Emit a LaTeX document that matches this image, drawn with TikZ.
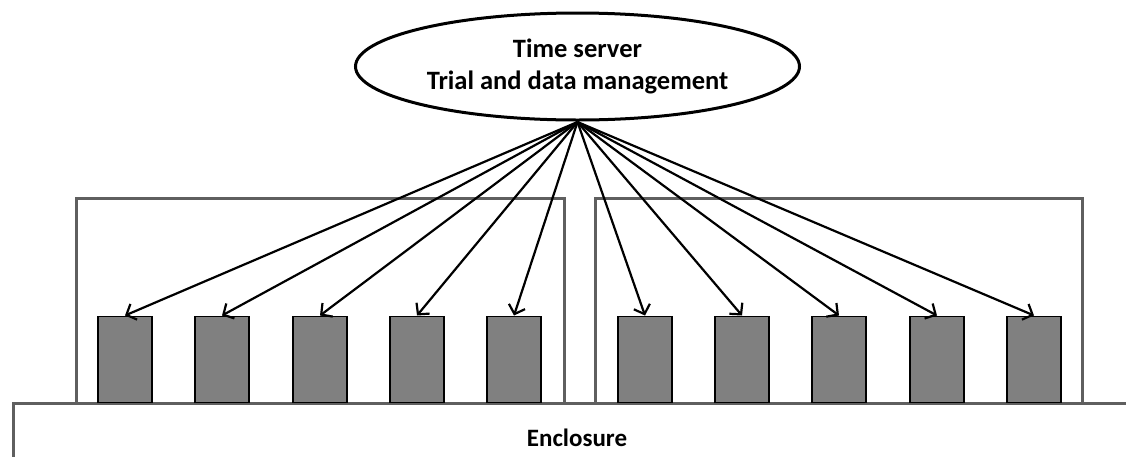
\documentclass[tikz,border=0pt]{standalone}
\usepackage{fontspec}
\setmainfont{Carlito}
\usetikzlibrary{shapes.geometric,arrows.meta}

\definecolor{framegray}{HTML}{5F5F5F}
\definecolor{unitgray}{HTML}{808080}

\begin{document}
\begin{tikzpicture}[x=1pt,y=-1pt,
    unit/.style={draw=black,line width=1.5pt,fill=unitgray,minimum width=54pt,minimum height=86pt,inner sep=0pt,anchor=south},
    link/.style={line width=2.2pt,-{Straight Barb[length=8pt,width=17pt,line width=2.2pt]}},
    wall/.style={draw=framegray,line width=3pt}]
            \useasboundingbox (0,0) rectangle (1126,456);
            \clip (0,0) rectangle (1126,456);
            % enclosure and the two frames
            \draw[wall] (13,470) -- (13,403) -- (1140,403);
            \draw[wall] (76,403) -- (76,198) -- (564,198) -- (564,403);
            \draw[wall] (595,403) -- (595,198) -- (1082,198) -- (1082,403);
            \node (encl) at (577,438) [font=\fontsize{25}{30}\selectfont\bfseries] {Enclosure};
            % server
            \node (server) at (577.5,66.5) [ellipse,draw,line width=3pt,minimum width=444pt,minimum height=107pt,align=center,inner sep=0pt,font=\fontsize{26.5}{32}\selectfont\bfseries]
                {Time server\\Trial and data management};
            \coordinate (hub) at (577.5,122);
            % units
            \foreach \i/\x in {1/125,2/222,3/320,4/417,5/514}
                \node (l\i) at (\x,403) [unit] {};
            \foreach \i/\x in {1/645,2/742,3/839,4/937,5/1034}
                \node (r\i) at (\x,403) [unit] {};
            \foreach \n in {l1,l2,l3,l4,l5,r1,r2,r3,r4,r5}
                \draw[link] (hub) -- (\n.north);
        \end{tikzpicture}
\end{document}
